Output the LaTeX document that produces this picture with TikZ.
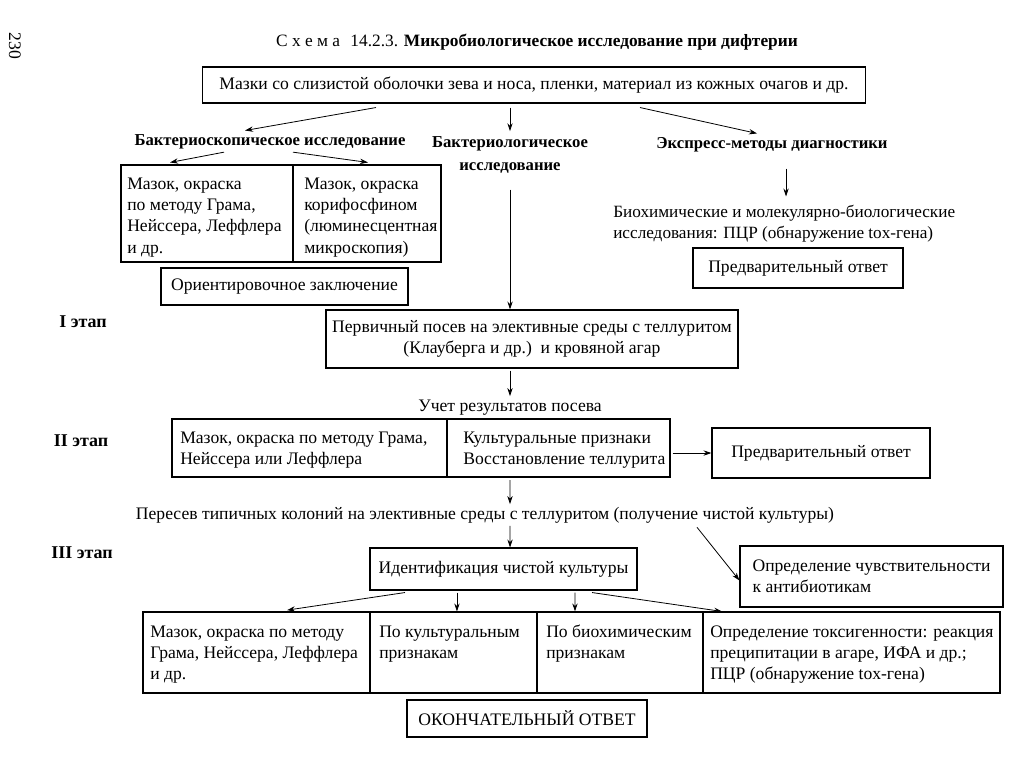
\documentclass[tikz,border=0pt]{standalone}
\usepackage{fontspec}
\setmainfont{Liberation Serif}
\usetikzlibrary{arrows.meta}
\newcommand\mylines[1]{\begin{tabular}[t]{@{}l@{}}#1\end{tabular}}
\begin{document}
\begin{tikzpicture}[x=0.75pt,y=-0.75pt,
 box/.style={draw,line width=0.8pt,inner sep=0pt,font=\fontsize{13.2}{16}\selectfont,align=center},
 txt/.style={inner sep=0pt,font=\fontsize{13.2}{16}\selectfont},
 ltxt/.style={txt,anchor=base west},
 hd/.style={inner sep=0pt,font=\fontsize{12.5}{17}\selectfont\bfseries,align=center},
 stg/.style={inner sep=0pt,font=\fontsize{13.5}{16}\selectfont\bfseries},
 arr/.style={-{Stealth[length=6pt,width=4pt]},line width=0.6pt}]
\useasboundingbox (0,0) rectangle (1013,760);
% page number and title
\node[txt,rotate=-90] (pg) at (15,46) {230};
\node[inner sep=0pt,font=\fontsize{13}{16}\selectfont] (title) at (537,42)
  {С\hspace{0.25em}х\hspace{0.25em}е\hspace{0.25em}м\hspace{0.25em}а\hspace{0.6em}14.2.3. \textbf{Микробиологическое исследование при дифтерии}};
% source
\node[box,minimum width=497.25pt,minimum height=27pt] (src) at (534,85)
  {Мазки со слизистой оболочки зева и носа, пленки, материал из кожных очагов и др.};
% headings
\node[hd] (bs) at (270,142) {Бактериоскопическое исследование};
\node[hd] (bl) at (510,155) {Бактериологическое\\исследование};
\node[hd] (ex) at (772,145) {Экспресс-методы диагностики};
% bacterioscopy cells
\node[box,minimum width=129pt,minimum height=72.75pt] (A1) at (207,213.5) {};
\node[box,minimum width=111pt,minimum height=72.75pt] (A2) at (367,213.5) {};
\node[ltxt] (A1t) at (127,189) {\mylines{Мазок, окраска\\по методу Грама,\\Нейссера, Леффлера\\и др.}};
\node[ltxt] (A2t) at (304,189) {\mylines{Мазок, окраска\\корифосфином\\(люминесцентная\\микроскопия)}};
\node[box,minimum width=185.25pt,minimum height=27.75pt] (or) at (284.5,286.5) {Ориентировочное заключение};
% express
\node[ltxt,font=\fontsize{12.9}{16}\selectfont] (bio) at (613,217) {\mylines{Биохимические и молекулярно-биологические\\исследования: ПЦР (обнаружение tox-гена)}};
\node[box,minimum width=157.5pt,minimum height=30pt] (pr1) at (798,268) {Предварительный ответ};
% stages
\node[stg] (st1) at (83,322) {I этап};
\node[stg] (st2) at (81,441) {II этап};
\node[stg] (st3) at (82,553) {III этап};
% stage I
\node[box,minimum width=309pt,minimum height=43.5pt] (I) at (532,339)
  {Первичный посев на элективные среды с теллуритом\\(Клауберга и др.)\ \ и кровяной агар};
\node[txt] (ucet) at (510,408) {Учет результатов посева};
% stage II
\node[box,minimum width=206.25pt,minimum height=43.5pt] (B1) at (309.5,448) {};
\node[box,minimum width=167.25pt,minimum height=43.5pt] (B2) at (558.5,448) {};
\node[ltxt] (B1t) at (180,443) {\mylines{Мазок, окраска по методу Грама,\\Нейссера или Леффлера}};
\node[ltxt] (B2t) at (463,443) {\mylines{Культуральные признаки\\Восстановление теллурита}};
\node[box,minimum width=163.5pt,minimum height=37.5pt] (pr2) at (821,453) {Предварительный ответ};
\node[txt] (per) at (485,515) {Пересев типичных колоний на элективные среды с теллуритом (получение чистой культуры)};
% stage III
\node[box,minimum width=200.25pt,minimum height=31.5pt] (id) at (503.5,569) {Идентификация чистой культуры};
\node[box,align=left,minimum width=197.25pt,minimum height=45.75pt] (sens) at (871.5,576.5)
  {Определение чувствительности\\к антибиотикам};
\node[box,minimum width=170.25pt,minimum height=60.75pt] (C1) at (256.5,652.5) {};
\node[box,minimum width=125.25pt,minimum height=60.75pt] (C2) at (453.5,652.5) {};
\node[box,minimum width=124.5pt,minimum height=60.75pt] (C3) at (620,652.5) {};
\node[box,minimum width=222.75pt,minimum height=60.75pt] (C4) at (851.5,652.5) {};
\node[ltxt] (C1t) at (150,637) {\mylines{Мазок, окраска по методу\\Грама, Нейссера, Леффлера\\и др.}};
\node[ltxt] (C2t) at (379,637) {\mylines{По культуральным\\признакам}};
\node[ltxt] (C3t) at (546,637) {\mylines{По биохимическим\\признакам}};
\node[ltxt] (C4t) at (710,637) {\mylines{Определение токсигенности: реакция\\преципитации в агаре, ИФА и др.;\\ПЦР (обнаружение tox-гена)}};
\node[box,minimum width=180pt,minimum height=27.75pt] (fin) at (527,718.5) {ОКОНЧАТЕЛЬНЫЙ ОТВЕТ};
% arrows
\draw[arr] ([xshift=-118.5pt,yshift=-3pt]src.south) -- ([xshift=-18.75pt,yshift=3pt]bs.north);
\draw[arr] ([xshift=-18pt,yshift=-3pt]src.south) -- ([yshift=4pt]bl.north);
\draw[arr] ([xshift=79.5pt,yshift=-3pt]src.south) -- ([xshift=-11.25pt,yshift=3pt]ex.north);
\draw[arr] ([xshift=-34.5pt,yshift=-2pt]bs.south) -- ([xshift=-27.75pt,yshift=1.5pt]A1.north);
\draw[arr] ([xshift=17.25pt,yshift=-2pt]bs.south) -- ([xshift=0.75pt,yshift=1.5pt]A2.north);
\draw[arr] ([yshift=-12pt]bl.south) -- ([xshift=-16.5pt]I.north);
\draw[arr] ([xshift=10.5pt,yshift=-12pt]ex.south) -- ([xshift=129.75pt,yshift=4pt]bio.north west);
\draw[arr] ([xshift=-16.5pt,yshift=-1.5pt]I.south) -- ([yshift=3pt]ucet.north);
\draw[arr] ([xshift=1.5pt,yshift=-3.75pt]B2.east) -- (pr2.west);
\draw[arr] ([xshift=-36.4pt,yshift=-2pt]B2.south) -- ([xshift=18.75pt,yshift=2pt]per.north);
\draw[arr] ([xshift=18.75pt,yshift=-2pt]per.south) -- ([xshift=4.9pt]id.north);
\draw[arr] ([xshift=159pt,yshift=-3pt]per.south) -- ([yshift=-3pt]sens.west);
\draw[arr] ([xshift=-73.9pt,yshift=-1.5pt]id.south) -- ([xshift=22.9pt,yshift=1pt]C1.north);
\draw[arr] ([xshift=-34.9pt,yshift=-1.5pt]id.south) -- ([xshift=2.6pt]C2.north);
\draw[arr] ([xshift=53.6pt,yshift=-1.5pt]id.south) -- ([xshift=-33.75pt]C3.north);
\draw[arr] ([xshift=66.4pt,yshift=-1.5pt]id.south) -- ([xshift=-97.1pt]C4.north);
\end{tikzpicture}
\end{document}
